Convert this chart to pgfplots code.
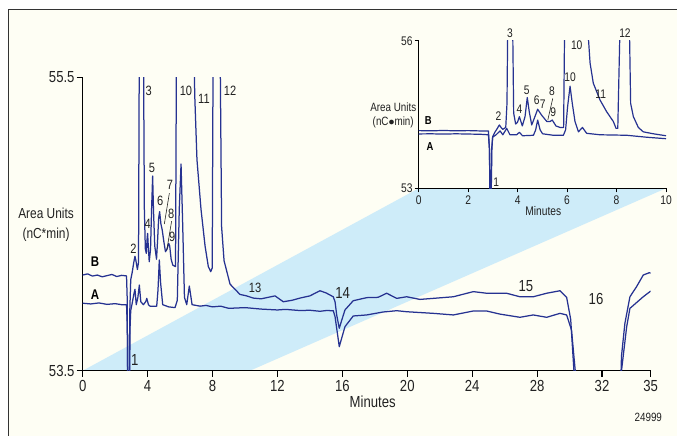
\documentclass[border=0pt]{standalone}
\usepackage{pgfplots}
\pgfplotsset{compat=1.18}
\usepackage{fontspec}
\setmainfont{Liberation Sans}[FakeStretch=0.82]
\definecolor{cream}{RGB}{254,254,244}
\definecolor{band}{RGB}{206,236,249}
\definecolor{trace}{RGB}{38,50,145}
\definecolor{txt}{RGB}{34,34,34}
\newcommand\fsz[2]{\fontsize{#1}{#2}\selectfont}
\begin{document}
\begin{tikzpicture}
\fill[white] (0pt,0pt) rectangle (677pt,436pt);
\fill[cream] (8.3pt,0pt) rectangle (677pt,426.3pt);
\draw[line width=1pt, black!80] (8.3pt,0pt) -- (8.3pt,426.3pt) -- (677pt,426.3pt);
\fill[band] (82.7pt,65.3pt) -- (418.7pt,247.7pt) -- (666pt,247.7pt) -- (250pt,65.3pt) -- cycle;

% ---------------- main axis ----------------
\begin{axis}[name=main, at={(82.7pt,65.3pt)}, anchor=south west,
  scale only axis, width=568pt, height=293.4pt,
  xmin=0, xmax=35, ymin=53.5, ymax=55.5,
  axis x line=bottom, axis y line=left,
  axis line style={-, line width=1.1pt, black},
  tick style={line width=1.1pt, black},
  tick align=outside, major tick length=6pt,
  xtick={0,4,8,12,16,20,24,28,32,35}, ytick={53.5,55.5},
  /pgf/number format/assume math mode=true,
  tick label style={font=\fsz{16}{19}, text=txt},
  yticklabel style={inner sep=2pt, /pgf/number format/fixed, /pgf/number format/precision=1, /pgf/number format/fixed zerofill},
  clip mode=individual]
\addplot[trace, line width=1.25pt, line join=round] coordinates {
(0,54.152) (0.3,54.16) (0.6,54.145) (0.9,54.152) (1.2,54.14) (1.5,54.148) (1.8,54.156) (2.1,54.142) (2.4,54.15) (2.70,54.146) (2.74,54.0) (2.78,53.2) (2.86,53.2) (2.90,53.9) (2.96,54.12) (3.05,54.17) (3.15,54.24) (3.22,54.28) (3.28,54.25) (3.37,54.19) (3.44,54.24) (3.49,55.8) (3.74,55.8) (3.80,54.6) (3.86,54.33) (3.92,54.30) (3.97,54.40) (4.0,54.436) (4.05,54.33) (4.10,54.243) (4.18,54.33) (4.25,54.62) (4.31,54.827) (4.36,54.6) (4.44,54.35) (4.55,54.26) (4.62,54.40) (4.68,54.54) (4.74,54.584) (4.82,54.50) (4.90,54.459) (5.00,54.38) (5.10,54.311) (5.20,54.33) (5.30,54.368) (5.36,54.35) (5.45,54.26) (5.55,54.22) (5.72,54.209) (5.78,55.8) (6.86,55.8) (6.90,55.39) (7.04,54.94) (7.29,54.60) (7.54,54.35) (7.74,54.21) (7.89,54.175) (7.98,54.20) (8.04,55.8) (8.46,55.8) (8.56,54.48) (8.71,54.25) (9.08,54.09) (9.69,54.02) (10.1,54.01) (10.51,53.995) (11.0,53.99) (11.34,53.998) (11.85,54.01) (12.36,53.97) (12.9,53.98) (13.39,53.995) (14.0,54.01) (14.62,54.045) (15.0,54.03) (15.44,54.004) (15.55,53.97) (15.65,53.88) (15.81,53.789) (15.95,53.84) (16.16,53.914) (16.67,53.977) (17.5,53.998) (18.2,54.0) (18.73,54.028) (19.35,53.993) (19.96,54.004) (20.78,53.986) (21.6,53.993) (22.84,54.004) (24.07,54.039) (24.89,54.028) (26.12,54.028) (26.94,54.004) (27.76,54.004) (28.59,54.028) (29.41,54.045) (29.82,54.0) (30.07,53.85) (30.27,53.5) (30.35,53.2) (33.10,53.2) (33.2,53.6) (33.41,53.823) (33.72,54.004) (34.13,54.073) (34.54,54.152) (34.91,54.168) (35,54.165)
};
\addplot[trace, line width=1.25pt, line join=round] coordinates {
(0,53.96) (0.5,53.955) (1.0,53.962) (1.5,53.952) (2.0,53.957) (2.4,53.95) (2.70,53.95) (2.75,53.8) (2.79,53.2) (2.87,53.2) (2.92,53.8) (2.96,53.91) (3.05,53.96) (3.15,54.02) (3.22,54.055) (3.30,53.95) (3.40,54.0) (3.49,54.084) (3.58,53.97) (3.74,53.95) (3.88,53.97) (3.95,53.993) (4.05,53.95) (4.15,53.94) (4.56,53.94) (4.64,54.05) (4.72,54.255) (4.80,54.10) (4.93,53.95) (5.3,53.935) (5.69,53.93) (5.83,53.98) (5.95,54.6) (6.06,54.909) (6.16,54.5) (6.27,54.0) (6.41,53.95) (6.57,54.077) (6.74,53.95) (7.23,53.94) (7.6,53.945) (8.0,53.935) (8.5,53.94) (9.0,53.925) (10.0,53.93) (11.0,53.92) (12.0,53.914) (12.5,53.918) (13.39,53.91) (14.0,53.912) (14.62,53.905) (15.0,53.91) (15.44,53.909) (15.55,53.868) (15.81,53.664) (16.16,53.80) (16.67,53.873) (17.5,53.88) (18.5,53.9) (19.35,53.909) (19.96,53.902) (21.6,53.891) (22.84,53.88) (24.07,53.907) (24.89,53.907) (25.7,53.886) (26.94,53.864) (27.76,53.88) (28.59,53.864) (29.41,53.891) (29.82,53.88) (30.12,53.777) (30.35,53.5) (30.42,53.2) (33.10,53.2) (33.2,53.5) (33.52,53.80) (33.72,53.925) (34.54,54.004) (35,54.043)
};
\begin{scope}[every node/.style={font=\fsz{13.5}{16}, text=txt, inner sep=0pt}]
\node at (axis cs:4.07,55.405) {3};
\node at (axis cs:6.36,55.405) {10};
\node at (axis cs:7.47,55.35) {11};
\node at (axis cs:9.08,55.405) {12};
\node at (axis cs:4.27,54.88) {5};
\node at (axis cs:5.38,54.766) {7};
\node at (axis cs:4.78,54.66) {6};
\node at (axis cs:5.46,54.57) {8};
\node at (axis cs:4.0,54.50) {4};
\node at (axis cs:5.52,54.41) {9};
\node at (axis cs:3.12,54.33) {2};
\node at (axis cs:10.62,54.066) {13};
\end{scope}
\begin{scope}[every node/.style={font=\fsz{16}{19}, text=txt, inner sep=0pt}]
\node at (axis cs:3.21,53.57) {1};
\node at (axis cs:16.02,54.03) {14};
\node at (axis cs:27.31,54.08) {15};
\node at (axis cs:31.63,53.99) {16};
\node at (axis cs:17.87,53.289) {Minutes};
\end{scope}
\draw[txt, line width=0.6pt] (axis cs:5.34,54.71) -- (axis cs:5.03,54.50);
\draw[txt, line width=0.6pt] (axis cs:5.48,54.52) -- (axis cs:5.18,54.32);
\node[font=\bfseries\fsz{14}{16}, text=black, inner sep=0pt] at (axis cs:0.76,54.243) {B};
\node[font=\bfseries\fsz{14}{16}, text=black, inner sep=0pt] at (axis cs:0.76,54.016) {A};
\node[font=\fsz{14.5}{20}, text=txt, align=center, inner sep=0pt] at (axis cs:-2.26,54.493) {Area Units\\(nC*min)};
\node[font=\fsz{12}{14}, text=txt, inner sep=0pt] at (axis cs:34.85,53.18) {24999};
\end{axis}

% ---------------- inset ----------------
\begin{axis}[name=inset, at={(418.7pt,247.7pt)}, anchor=south west,
  scale only axis, width=247.3pt, height=147.3pt,
  xmin=0, xmax=10, ymin=53, ymax=56,
  axis x line=bottom, axis y line=left,
  axis line style={-, line width=1pt, black},
  tick style={line width=1pt, black},
  tick align=outside, major tick length=4pt,
  xtick={0,2,4,6,8,10}, ytick={53,56},
  /pgf/number format/assume math mode=true,
  tick label style={font=\fsz{12.5}{15}, text=txt},
  yticklabel style={inner sep=2pt},
  clip mode=individual]
\addplot[trace, line width=1.2pt, line join=round] coordinates {
(0,54.175) (0.5,54.17) (1.0,54.178) (1.5,54.17) (2.0,54.175) (2.5,54.168) (2.82,54.168) (2.86,53.8) (2.88,52.8) (2.92,52.8) (2.95,53.8) (2.99,54.05) (3.09,54.15) (3.18,54.22) (3.26,54.29) (3.33,54.24) (3.40,54.20) (3.52,54.24) (3.57,54.73) (3.60,56.3) (3.80,56.3) (3.84,54.53) (3.92,54.31) (3.99,54.34) (4.07,54.46) (4.19,54.27) (4.30,54.46) (4.39,54.85) (4.47,54.56) (4.57,54.29) (4.70,54.46) (4.81,54.61) (4.97,54.49) (5.18,54.36) (5.31,54.36) (5.40,54.39) (5.55,54.27) (5.71,54.24) (5.86,54.24) (5.90,56.3) (6.83,56.3) (6.87,56.0) (6.93,55.55) (7.06,55.14) (7.33,54.80) (7.60,54.56) (7.87,54.36) (7.98,54.22) (8.05,54.22) (8.14,56.3) (8.52,56.3) (8.57,54.73) (8.68,54.46) (8.88,54.24) (9.08,54.15) (9.49,54.11) (10,54.07)
};
\addplot[trace, line width=1.2pt, line join=round] coordinates {
(0,54.107) (0.5,54.11) (1.0,54.104) (1.5,54.11) (2.0,54.105) (2.5,54.1) (2.82,54.09) (2.86,53.8) (2.89,52.8) (2.93,52.8) (2.96,53.8) (2.99,54.04) (3.13,54.09) (3.29,54.17) (3.40,54.09) (3.56,54.22) (3.69,54.09) (3.96,54.09) (4.07,54.14) (4.20,54.07) (4.64,54.08) (4.73,54.19) (4.81,54.39) (4.91,54.19) (5.01,54.11) (5.44,54.08) (5.85,54.08) (5.94,54.19) (6.02,54.66) (6.12,55.08) (6.21,54.73) (6.32,54.36) (6.46,54.15) (6.62,54.24) (6.79,54.12) (7.33,54.09) (8.41,54.08) (9.22,54.04) (10,54.01)
};
\begin{scope}[every node/.style={font=\fsz{12.5}{15}, text=txt, inner sep=0pt}]
\node at (axis cs:3.69,56.157) {3};
\node at (axis cs:6.39,55.92) {10};
\node at (axis cs:8.34,56.17) {12};
\node at (axis cs:6.12,55.26) {10};
\node at (axis cs:7.36,54.92) {11};
\node at (axis cs:3.23,54.46) {2};
\node at (axis cs:4.07,54.61) {4};
\node at (axis cs:4.37,55.0) {5};
\node at (axis cs:4.77,54.80) {6};
\node at (axis cs:5.01,54.72) {7};
\node at (axis cs:5.39,54.97) {8};
\node at (axis cs:5.44,54.54) {9};
\node at (axis cs:3.13,53.12) {1};
\node at (axis cs:5.04,52.544) {Minutes};
\end{scope}
\draw[txt, line width=0.6pt] (axis cs:5.22,54.39) -- (axis cs:5.42,54.83);
\node[font=\bfseries\fsz{11.5}{13}, text=black, inner sep=0pt] at (axis cs:0.39,54.37) {B};
\node[font=\bfseries\fsz{11.5}{13}, text=black, inner sep=0pt] at (axis cs:0.46,53.86) {A};
\node[font=\fsz{12}{14}, text=txt, align=center, inner sep=0pt] at (axis cs:-1.03,54.49) {Area Units\\(nC$\bullet$min)};
\end{axis}
\pgfresetboundingbox
\useasboundingbox (0pt,0pt) rectangle (677pt,436pt);
\end{tikzpicture}
\end{document}
